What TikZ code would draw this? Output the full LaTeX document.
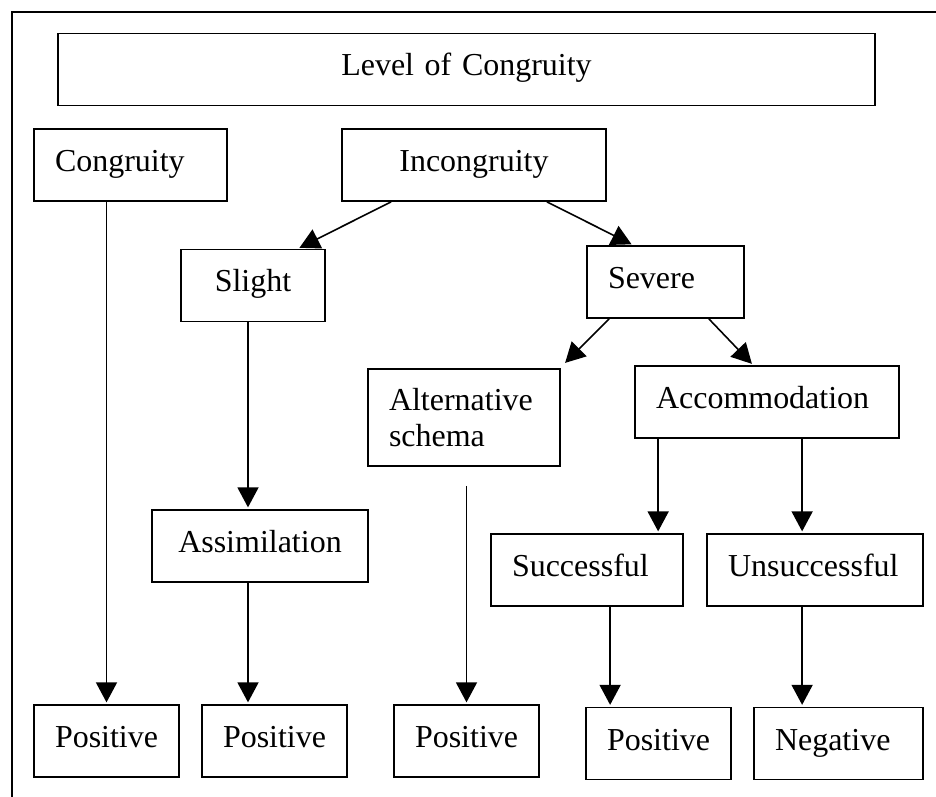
\documentclass[tikz,border=0pt]{standalone}
\usepackage{fontspec}
\setmainfont{Liberation Serif}
\usetikzlibrary{arrows.meta,calc}

\begin{document}
\begin{tikzpicture}[
  x=0.02cm, y=-0.02cm,
  font=\fontsize{18.2pt}{21pt}\selectfont,
  box/.style={draw, line width=1pt, align=left, inner xsep=0.42cm, inner ysep=0pt,
    text height=0.45cm, text depth=0.19cm, minimum height=1.44cm},
  mid/.style={box, align=center},
  arr/.style={-{Triangle[length=0.4cm, width=0.42cm]}, line width=0.9pt, shorten >=1pt}
]
\useasboundingbox (0,0) rectangle (936,797);
\draw[line width=0.9pt] (12,797) -- (12,12) -- (936,12);

\node[mid, text width=15.5cm] (title) at (466.5,69.5) {Level of Congruity};
\node[box, text width=3.02cm] (cong) at (130.5,165) {Congruity};
\node[mid, text width=4.44cm] (incong) at (474,165) {Incongruity};
\node[mid, text width=2.04cm] (slight) at (253,285.5) {Slight};
\node[box, text width=2.3cm] (severe) at (665.5,282) {Severe};
\node[box, text width=3.0cm, minimum height=1.94cm, text depth=0.75cm] (alt) at (464,417.5) {Alternative\\schema};
\node[box, text width=4.44cm] (accom) at (767,402) {Accommodation};
\node[mid, text width=3.48cm] (assim) at (260,546) {Assimilation};
\node[box, text width=3.0cm] (succ) at (587,570) {Successful};
\node[box, text width=3.48cm] (unsucc) at (815,570) {Unsuccessful};
\node[box, text width=2.06cm] (pos1) at (106.5,741) {Positive};
\node[box, text width=2.06cm] (pos2) at (274.5,741) {Positive};
\node[box, text width=2.06cm] (pos3) at (466.5,741) {Positive};
\node[box, text width=2.06cm] (pos4) at (658.5,743.5) {Positive};
\node[box, text width=2.54cm] (neg) at (838.5,743.5) {Negative};

% helper points for the vertical connectors
\coordinate (sl) at ([xshift=-0.1cm]slight.south);
\coordinate (altgap) at ([yshift=-0.38cm]alt.south);
\coordinate (ac1) at ([xshift=0.48cm]accom.south west);
\coordinate (ac2) at ([xshift=3.36cm]accom.south west);
\coordinate (sc) at ([xshift=2.4cm]succ.south west);

\draw[arr] ([xshift=1cm]incong.south west) -- ([xshift=-0.56cm]slight.north east);
\draw[arr] ([xshift=-1.2cm]incong.south east) -- ([xshift=0.94cm]severe.north west);
\draw[arr] ([xshift=0.46cm]severe.south west) -- ([xshift=0.06cm,yshift=0.08cm]alt.north east);
\draw[arr] ([xshift=-0.72cm]severe.south east) -- ([xshift=2.38cm]accom.north west);

\draw[arr] (pos1.north |- cong.south) -- (pos1.north);
\draw[arr] (sl) -- (sl |- assim.north);
\draw[arr] (sl |- assim.south) -- (sl |- pos2.north);
\draw[arr] (altgap -| pos3.north) -- (pos3.north);
\draw[arr] (ac1) -- (ac1 |- succ.north);
\draw[arr] (ac2) -- (ac2 |- unsucc.north);
\draw[arr] (sc) -- (sc |- pos4.north);
\draw[arr] (ac2 |- unsucc.south) -- (ac2 |- neg.north);
\end{tikzpicture}
\end{document}
